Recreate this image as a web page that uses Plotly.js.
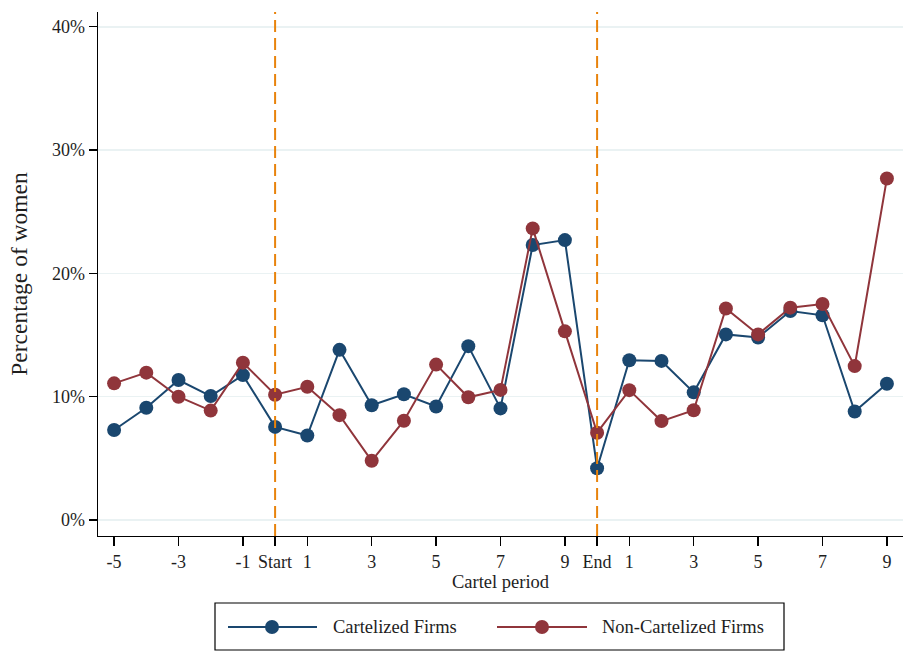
<!DOCTYPE html>
<html>
<head>
<meta charset="utf-8">
<script src="https://cdn.plot.ly/plotly-3.0.1.min.js"></script>
<style>
  html, body { margin: 0; padding: 0; background: #ffffff; }
  #chart { width: 906px; height: 660px; }
</style>
</head>
<body>
<div id="chart"></div>
<script>
// Cartel period labels, one per observation
const periods = ["-5","-4","-3","-2","-1","Start",
  "1","2","3","4","5","6","7","8","9","End",
  "1","2","3","4","5","6","7","8","9"];

// Labels shown on the horizontal axis
const tickLabels = ["-5","-3","-1","Start","1","3","5","7","9","End","1","3","5","7","9"];
const tickIndex = [0, 2, 4, 5, 6, 8, 10, 12, 14, 15, 16, 18, 20, 22, 24];

// Share of women (%)
const cartelized = [7.3, 9.1, 11.35, 10.05, 11.75, 7.55,
  6.85, 13.8, 9.3, 10.2, 9.2, 14.1, 9.05, 22.3, 22.7, 4.2,
  12.95, 12.9, 10.35, 15.05, 14.8, 16.95, 16.6, 8.8, 11.05];
const nonCartelized = [11.08, 11.95, 10.0, 8.87, 12.76, 10.16,
  10.8, 8.5, 4.8, 8.05, 12.6, 9.95, 10.55, 23.65, 15.3, 7.08,
  10.53, 8.02, 8.9, 17.15, 15.05, 17.22, 17.52, 12.48, 27.7];

const yTicks = [0, 10, 20, 30, 40];
const yTickText = ["0%", "10%", "20%", "30%", "40%"];

const seriesNames = ["Cartelized Firms", "Non-Cartelized Firms"];
const seriesColors = ["#1a476f", "#90353b"];

const xIdx = periods.map((_, i) => i);
const startIdx = periods.indexOf("Start");
const endIdx = periods.indexOf("End");

const FONT = "Liberation Serif, Times New Roman, serif";
const TXT = "#1e1e1e";
const W = 906, H = 660;
const M = { l: 98, r: 3, t: 12, b: 124 };
const PW = W - M.l - M.r, PH = H - M.t - M.b;
const px = v => (v - M.l) / PW;      // pixel x -> paper x
const py = v => (H - M.b - v) / PH;  // pixel y -> paper y

const traces = [cartelized, nonCartelized].map((vals, k) => ({
  type: "scatter",
  mode: "lines+markers",
  x: xIdx,
  y: vals,
  name: seriesNames[k],
  line: { color: seriesColors[k], width: 2 },
  marker: { color: seriesColors[k], size: 14 },
  hoverinfo: "x+y",
  showlegend: false
}));

// Period boundaries
const shapes = [startIdx, endIdx].map(i => ({
  type: "line", xref: "x", yref: "paper",
  x0: i, x1: i, y0: 0, y1: 1,
  line: { color: "#e8830c", width: 2, dash: "12px,6px" },
  layer: "above"
}));

// Legend frame and keys
const legendRow = py(627);
shapes.push({
  type: "rect", xref: "paper", yref: "paper",
  x0: px(215), x1: px(784), y0: py(650), y1: py(603),
  line: { color: "#000000", width: 1.2 }, fillcolor: "rgba(0,0,0,0)"
});
const keys = [
  { a: 228, b: 317, c: 272, t: 331 },
  { a: 497, b: 587, c: 542, t: 600 }
];
const annotations = [];
keys.forEach((k, i) => {
  shapes.push({
    type: "line", xref: "paper", yref: "paper",
    x0: px(k.a), x1: px(k.b), y0: legendRow, y1: legendRow,
    line: { color: seriesColors[i], width: 2 }
  });
  shapes.push({
    type: "circle", xref: "paper", yref: "paper",
    xsizemode: "pixel", ysizemode: "pixel",
    xanchor: px(k.c), yanchor: legendRow,
    x0: -7, x1: 7, y0: -7, y1: 7,
    fillcolor: seriesColors[i], line: { width: 0 }
  });
  annotations.push({
    xref: "paper", yref: "paper", x: px(k.t), y: legendRow,
    xanchor: "left", yanchor: "middle", showarrow: false,
    text: seriesNames[i],
    font: { family: FONT, size: 18.5, color: TXT }
  });
});

const layout = {
  width: W, height: H,
  margin: M,
  paper_bgcolor: "#ffffff",
  plot_bgcolor: "#ffffff",
  font: { family: FONT, size: 18, color: TXT },
  showlegend: false,
  xaxis: {
    range: [-0.5, 24.5],
    tickmode: "array",
    tickvals: tickIndex,
    ticktext: tickLabels,
    ticks: "outside", ticklen: 9, tickwidth: 1.3, tickcolor: "#000000",
    showline: true, linecolor: "#000000", linewidth: 1.3,
    showgrid: false, zeroline: false,
    tickfont: { family: FONT, size: 18, color: TXT },
    title: { text: "Cartel period", standoff: 0,
             font: { family: FONT, size: 18.5, color: TXT } }
  },
  yaxis: {
    range: [-1.3, 41.2],
    tickmode: "array",
    tickvals: yTicks,
    ticktext: yTickText,
    ticks: "outside", ticklen: 8, tickwidth: 1.3, tickcolor: "#000000",
    showline: true, linecolor: "#000000", linewidth: 1.3,
    showgrid: true, gridcolor: "#eaf2f3", gridwidth: 1.5,
    zeroline: false,
    tickfont: { family: FONT, size: 18, color: TXT },
    title: { text: "Percentage of women", standoff: 18,
             font: { family: FONT, size: 23.5, color: TXT } }
  },
  shapes: shapes,
  annotations: annotations
};

Plotly.newPlot("chart", traces, layout, { displayModeBar: false, staticPlot: true });
</script>
</body>
</html>
